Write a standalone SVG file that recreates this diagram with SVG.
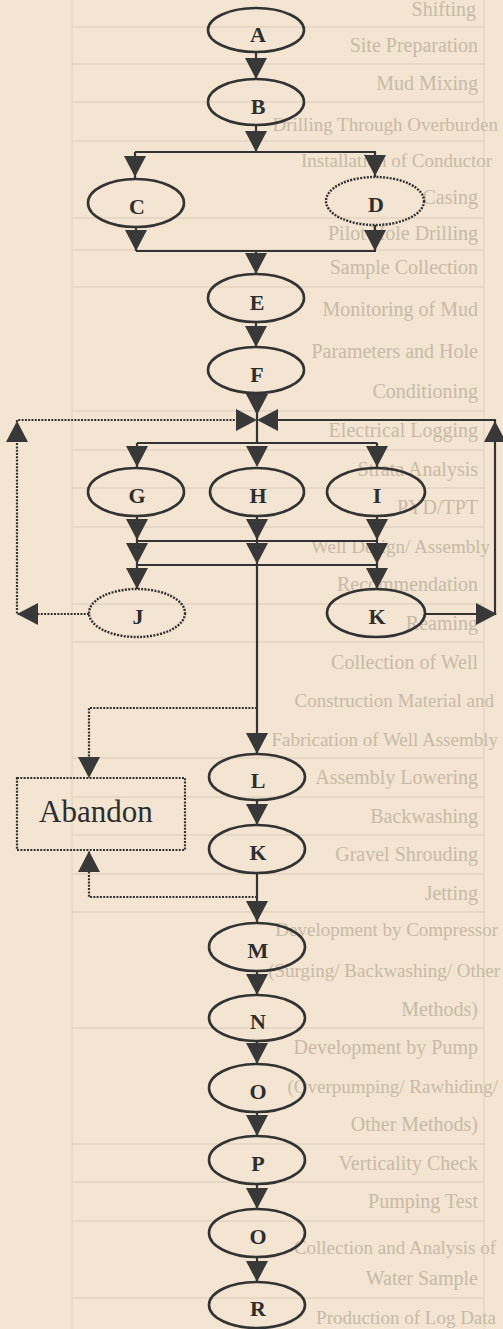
<svg xmlns="http://www.w3.org/2000/svg" xmlns:xlink="http://www.w3.org/1999/xlink" width="503" height="1329" viewBox="0 0 503 1329">
<style>
.node ellipse{fill:none;stroke:#333;stroke-width:2.6}
.dotted ellipse{stroke-dasharray:2 1.3;stroke-width:2.4}
.node text{font-family:"Liberation Serif",serif;font-size:22px;font-weight:bold;fill:#2e2e2e;text-anchor:middle}
.ln{stroke:#333;stroke-width:2.2;fill:none}
.dt{stroke:#333;stroke-width:2.2;fill:none;stroke-dasharray:2 1.3}
.tri{fill:#383838}
.ghost text{font-family:"Liberation Serif",serif;font-size:20px;fill:#c8baa6;text-anchor:end}
.ghost text.lg{font-size:19px}
.gl{stroke:#e2d4c1;stroke-width:1.3;fill:none}
.box rect{fill:none;stroke:#333;stroke-width:2.2;stroke-dasharray:2 1.3}
.box text{font-family:"Liberation Serif",serif;font-size:31px;fill:#2e2e2e}
</style>
<defs>
<path id="tv" class="tri" d="M-11,-21 L11,-21 L0,0 Z"/>
</defs>
<rect x="0" y="0" width="503" height="1329" fill="#f3e5d2"/>
<g id="bleed-through">
<path class="gl" d="M72,0 V1329 M484,0 V1329 M72,27 H484 M72,64 H484 M72,102 H484 M72,141 H484 M72,218 H484 M72,250 H484 M72,287 H484 M72,411 H484 M72,450 H484 M72,488 H484 M72,527 H484 M72,604 H484 M72,642 H484 M72,758 H484 M72,797 H484 M72,835 H484 M72,874 H484 M72,912 H484 M72,1028 H484 M72,1144 H484 M72,1182 H484 M72,1221 H484 M72,1298 H484"/>
<g class="ghost">
<text x="476" y="16">Shifting</text>
<text x="478" y="52">Site Preparation</text>
<text x="478" y="90">Mud Mixing</text>
<text class="lg" x="498" y="131">Drilling Through Overburden</text>
<text class="lg" x="492" y="167">Installation of Conductor</text>
<text x="478" y="204">Casing</text>
<text x="478" y="240">Pilot Hole Drilling</text>
<text x="478" y="274">Sample Collection</text>
<text x="478" y="316">Monitoring of Mud</text>
<text x="478" y="358">Parameters and Hole</text>
<text x="478" y="398">Conditioning</text>
<text x="478" y="437">Electrical Logging</text>
<text x="478" y="476">Strata Analysis</text>
<text x="478" y="514">PYD/TPT</text>
<text class="lg" x="490" y="553">Well Design/ Assembly</text>
<text x="478" y="591">Recommendation</text>
<text x="478" y="630">Reaming</text>
<text x="478" y="669">Collection of Well</text>
<text class="lg" x="494" y="707">Construction Material and</text>
<text class="lg" x="498" y="746">Fabrication of Well Assembly</text>
<text x="478" y="784">Assembly Lowering</text>
<text x="478" y="823">Backwashing</text>
<text x="478" y="861">Gravel Shrouding</text>
<text x="478" y="900">Jetting</text>
<text class="lg" x="498" y="936">Development by Compressor</text>
<text class="lg" x="500" y="977">(Surging/ Backwashing/ Other</text>
<text x="478" y="1016">Methods)</text>
<text x="478" y="1054">Development by Pump</text>
<text class="lg" x="498" y="1093">(Overpumping/ Rawhiding/</text>
<text x="478" y="1131">Other Methods)</text>
<text x="478" y="1170">Verticality Check</text>
<text x="478" y="1208">Pumping Test</text>
<text class="lg" x="496" y="1254">Collection and Analysis of</text>
<text x="478" y="1285">Water Sample</text>
<text class="lg" x="496" y="1324">Production of Log Data</text>
</g>
</g>
<g id="connectors">
<path class="ln" d="M256,52 V79 M256,125 V152 M135,152 H376 M135,152 V179 M375,152 V177 M136,227 V251 M375,225 V251 M136,251 H376 M256,251 V274 M256,322 V347 M257,393 V443 M137,443 H377 M137,443 V468 M377,443 V468 M137,516 V589 M377,516 V589 M257,516 V754 M137,541 H377 M137,565 H377 M425,614 H495 V420 H262 M257,800 V825 M257,873 V923 M257,971 V995 M257,1041 V1064 M257,1112 V1136 M257,1184 V1209 M257,1257 V1282"/>
<path class="dt" d="M89,614 H17 V420 H240 M257,708 H89 V778 M257,897 H89 V851"/>
<use href="#tv" transform="translate(256,79)"/>
<use href="#tv" transform="translate(256,152)"/>
<use href="#tv" transform="translate(135,177)"/>
<use href="#tv" transform="translate(375,176)"/>
<use href="#tv" transform="translate(136,251)"/>
<use href="#tv" transform="translate(375,251)"/>
<use href="#tv" transform="translate(256,274)"/>
<use href="#tv" transform="translate(256,347)"/>
<use href="#tv" transform="translate(257,415)"/>
<use href="#tv" transform="translate(257,420) rotate(-90)"/>
<use href="#tv" transform="translate(257,420) rotate(90)"/>
<use href="#tv" transform="translate(17,421) rotate(180)"/>
<use href="#tv" transform="translate(17,614) rotate(90)"/>
<use href="#tv" transform="translate(495,421) rotate(180)"/>
<use href="#tv" transform="translate(497,614) rotate(-90)"/>
<use href="#tv" transform="translate(137,467)"/>
<use href="#tv" transform="translate(257,467)"/>
<use href="#tv" transform="translate(377,467)"/>
<use href="#tv" transform="translate(137,540)"/>
<use href="#tv" transform="translate(257,540)"/>
<use href="#tv" transform="translate(377,540)"/>
<use href="#tv" transform="translate(137,564)"/>
<use href="#tv" transform="translate(257,564)"/>
<use href="#tv" transform="translate(377,564)"/>
<use href="#tv" transform="translate(137,589)"/>
<use href="#tv" transform="translate(377,589)"/>
<use href="#tv" transform="translate(89,778)"/>
<use href="#tv" transform="translate(257,754)"/>
<use href="#tv" transform="translate(257,825)"/>
<use href="#tv" transform="translate(257,922)"/>
<use href="#tv" transform="translate(89,851) rotate(180)"/>
<use href="#tv" transform="translate(257,995)"/>
<use href="#tv" transform="translate(257,1064)"/>
<use href="#tv" transform="translate(257,1136)"/>
<use href="#tv" transform="translate(257,1209)"/>
<use href="#tv" transform="translate(257,1282)"/>
</g>
<g id="node-A" class="node"><ellipse cx="256" cy="30" rx="48" ry="22"/><text x="258" y="42">A</text></g>
<g id="node-B" class="node"><ellipse cx="256" cy="102" rx="48" ry="23"/><text x="258" y="114">B</text></g>
<g id="node-C" class="node"><ellipse cx="136" cy="203" rx="48" ry="24"/><text x="137" y="214">C</text></g>
<g id="node-D" class="node dotted"><ellipse cx="375" cy="201" rx="49" ry="24"/><text x="376" y="212">D</text></g>
<g id="node-E" class="node"><ellipse cx="256" cy="298" rx="48" ry="24"/><text x="257" y="310">E</text></g>
<g id="node-F" class="node"><ellipse cx="256" cy="370" rx="48" ry="23"/><text x="257" y="382">F</text></g>
<g id="node-G" class="node"><ellipse cx="136" cy="492" rx="48" ry="24"/><text x="137" y="503">G</text></g>
<g id="node-H" class="node"><ellipse cx="257" cy="492" rx="47" ry="24"/><text x="258" y="503">H</text></g>
<g id="node-I" class="node"><ellipse cx="376" cy="492" rx="49" ry="24"/><text x="377" y="503">I</text></g>
<g id="node-J" class="node dotted"><ellipse cx="137" cy="613" rx="48" ry="24"/><text x="138" y="624">J</text></g>
<g id="node-K" class="node"><ellipse cx="376" cy="613" rx="49" ry="24"/><text x="377" y="624">K</text></g>
<g id="node-abandon" class="box"><rect x="17" y="778" width="168" height="72"/><text x="39" y="822">Abandon</text></g>
<g id="node-L" class="node"><ellipse cx="257" cy="777" rx="48" ry="23"/><text x="258" y="788">L</text></g>
<g id="node-K2" class="node"><ellipse cx="257" cy="849" rx="48" ry="24"/><text x="258" y="860">K</text></g>
<g id="node-M" class="node"><ellipse cx="257" cy="947" rx="48" ry="24"/><text x="258" y="958">M</text></g>
<g id="node-N" class="node"><ellipse cx="257" cy="1018" rx="48" ry="23"/><text x="258" y="1029">N</text></g>
<g id="node-O" class="node"><ellipse cx="257" cy="1088" rx="48" ry="24"/><text x="258" y="1099">O</text></g>
<g id="node-P" class="node"><ellipse cx="257" cy="1160" rx="48" ry="24"/><text x="258" y="1171">P</text></g>
<g id="node-O2" class="node"><ellipse cx="257" cy="1233" rx="48" ry="24"/><text x="258" y="1244">O</text></g>
<g id="node-R" class="node"><ellipse cx="257" cy="1305" rx="48" ry="23"/><text x="258" y="1316">R</text></g>
</svg>
